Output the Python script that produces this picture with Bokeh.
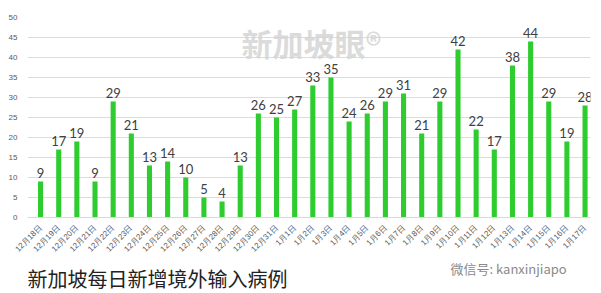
from bokeh.plotting import figure
from bokeh.models import ColumnDataSource, FixedTicker, Label
from bokeh.layouts import column
from bokeh.embed import file_html
from bokeh.resources import INLINE
from bokeh.core.properties import value
import math

dates = ["12月18日", "12月19日", "12月20日", "12月21日", "12月22日", "12月23日", "12月24日",
         "12月25日", "12月26日", "12月27日", "12月28日", "12月29日", "12月30日", "12月31日",
         "1月1日", "1月2日", "1月3日", "1月4日", "1月5日", "1月6日", "1月7日", "1月8日",
         "1月9日", "1月10日", "1月11日", "1月12日", "1月13日", "1月14日", "1月15日",
         "1月16日", "1月17日"]
cases = [9, 17, 19, 9, 29, 21, 13, 14, 10, 5, 4, 13, 26, 25, 27, 33, 35, 24, 26, 29,
         31, 21, 29, 42, 22, 17, 38, 44, 29, 19, 28]
y_ticks = [0, 5, 10, 15, 20, 25, 30, 35, 40, 45, 50]
title_text = "新加坡每日新增境外输入病例"
credit_text = "微信号: kanxinjiapo"
watermark_text = "新加坡眼®"

idx = list(range(len(dates)))
src = ColumnDataSource(dict(x=idx, y=cases, lab=[str(v) for v in cases]))

p = figure(width=601, height=260, output_backend="svg", toolbar_location=None,
           x_range=(-0.72, 30.3), y_range=(0, 50),
           min_border_left=27, min_border_right=11, min_border_top=17, min_border_bottom=43)
p.outline_line_color = None
p.background_fill_color = "white"
p.border_fill_color = "white"

p.add_layout(Label(x=214, y=175, x_units="screen", y_units="screen", text=watermark_text,
                   text_font="Noto Sans CJK SC", text_font_style="bold",
                   text_font_size="31px", text_color="#d2d2d2", text_alpha=0.8,
                   text_baseline="middle", level="underlay"))

p.vbar(x="x", top="y", width=0.28, source=src, color="#2ecc2e", line_color=None)
p.text(x="x", y="y", text="lab", source=src, text_align="center", text_baseline="bottom",
       y_offset=-4, text_font=value("Lato"), text_font_size="13px", text_color="#404040")

p.xaxis.ticker = FixedTicker(ticks=idx)
p.xaxis.major_label_overrides = {i: d for i, d in enumerate(dates)}
p.xaxis.major_label_orientation = math.pi / 4
p.xaxis.major_label_text_font_size = "8px"
p.xaxis.major_label_text_color = "#595959"
p.xaxis.axis_line_color = "#d9d9d9"
p.xaxis.major_tick_line_color = None
p.xaxis.minor_tick_line_color = None
p.xaxis.major_label_standoff = 3

p.yaxis.ticker = FixedTicker(ticks=y_ticks)
p.yaxis.major_label_text_font_size = "8px"
p.yaxis.major_label_text_color = "#595959"
p.yaxis.axis_line_color = None
p.yaxis.major_tick_line_color = None
p.yaxis.minor_tick_line_color = None
p.yaxis.major_label_standoff = 4

p.xgrid.grid_line_color = None
p.ygrid.grid_line_color = "#dcdcdc"

# caption strip below the chart (its frame is aligned with the chart frame)
q = figure(width=601, height=33, output_backend="svg", toolbar_location=None,
           x_axis_type=None, y_axis_type=None,
           x_range=(0, 601), y_range=(0, 33), min_border=0)
q.grid.visible = False
q.outline_line_color = None
q.add_layout(Label(x=0, y=15, x_units="screen", y_units="screen", text=title_text,
                   text_font="Noto Sans CJK SC",
                   text_font_size="20px", text_color="#222222", text_baseline="middle"))
q.add_layout(Label(x=423, y=25, x_units="screen", y_units="screen", text=credit_text,
                   text_font="Noto Sans CJK SC",
                   text_font_size="13px", text_color="#8a8a8a", text_baseline="middle"))

layout = column(p, q, spacing=0)
open("out.html", "w").write(file_html(layout, INLINE))
